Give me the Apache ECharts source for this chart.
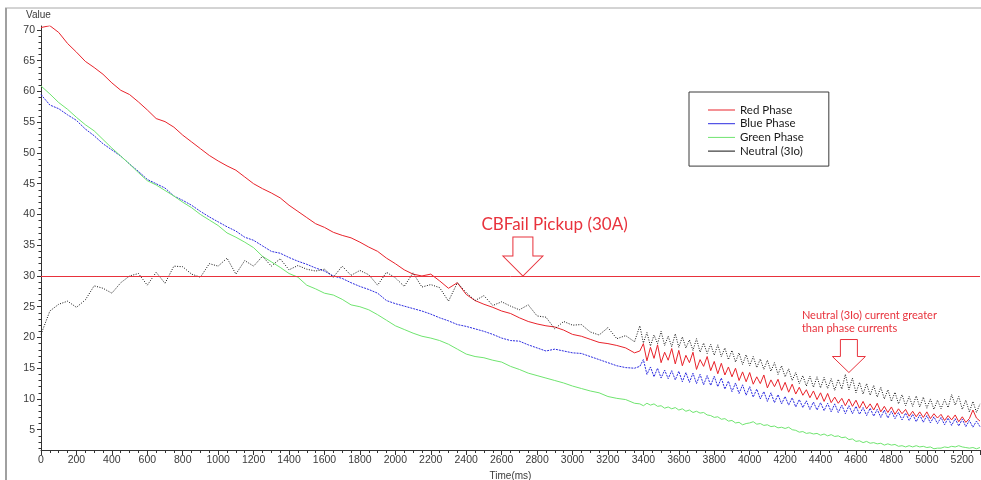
<!DOCTYPE html>
<html>
<head>
<meta charset="utf-8">
<script src="https://cdn.jsdelivr.net/npm/echarts@6/dist/echarts.min.js"></script>
<style>
html,body{margin:0;padding:0;background:#fff;}
#chart{width:981px;height:480px;}
</style>
</head>
<body>
<div id="chart"></div>
<script>
// Time axis (ms)
const timeMs = [
0,50,100,150,200,250,300,350,400,450,
500,550,600,650,700,750,800,850,900,950,
1000,1050,1100,1150,1200,1250,1300,1350,1400,1450,
1500,1550,1600,1650,1700,1750,1800,1850,1900,1950,
2000,2050,2100,2150,2200,2250,2300,2350,2400,2450,
2500,2550,2600,2650,2700,2750,2800,2850,2900,2950,
3000,3050,3100,3150,3200,3250,3300,3350,
3380,
3400,3420,3440,3460,3480,3500,3520,3540,3560,3580,
3600,3620,3640,3660,3680,3700,3720,3740,3760,3780,
3800,3820,3840,3860,3880,3900,3920,3940,3960,3980,
4000,4020,4040,4060,4080,4100,4120,4140,4160,4180,
4200,4220,4240,4260,4280,4300,4320,4340,4360,4380,
4400,4420,4440,4460,4480,4500,4520,4540,4560,4580,
4600,4620,4640,4660,4680,4700,4720,4740,4760,4780,
4800,4820,4840,4860,4880,4900,4920,4940,4960,4980,
5000,5020,5040,5060,5080,5100,5120,5140,5160,5180,
5200,5220,5240,5260,5280,5300
];

const redPhase = [
70.4,70.7,69.6,67.8,66.4,64.9,63.9,62.8,61.4,60.2,
59.5,58.3,57.0,55.6,55.1,54.2,52.9,51.8,50.7,49.6,
48.7,47.9,47.2,46.1,45.0,44.2,43.5,42.7,41.5,40.5,
39.5,38.5,37.9,37.1,36.6,36.2,35.5,34.7,34.0,32.9,
32.0,31.0,30.3,30.0,30.3,29.2,28.0,28.9,27.0,26.0,
25.4,24.9,24.3,23.9,23.2,22.6,22.2,21.9,21.7,21.2,
20.5,20.2,19.7,19.2,19.0,18.7,18.3,17.5,
17.8,
19.0,16.2,18.4,16.6,18.8,15.9,17.6,16.3,18.2,15.7,
17.9,15.4,17.1,15.9,17.6,14.8,16.4,15.3,16.9,14.6,
16.1,14.1,15.8,13.9,15.2,13.6,15.0,13.0,14.4,12.8,
14.3,12.4,13.6,12.5,13.9,11.8,13.1,12.0,13.2,11.4,
12.7,11.1,12.4,10.8,11.9,10.6,11.5,10.2,11.3,9.9,
11.0,9.6,10.9,9.4,10.3,9.3,10.1,8.9,10.0,8.8,
9.8,8.5,9.6,8.4,9.2,8.2,9.3,7.9,8.8,7.8,
8.7,7.5,8.4,7.6,8.3,7.2,8.0,7.1,7.9,7.0,
7.9,6.8,7.6,6.9,7.5,6.5,7.3,6.6,7.4,6.3,
7.1,6.2,6.8,8.2,6.9,6.4
];

const bluePhase = [
59.5,57.8,57.2,56.2,55.3,53.9,52.8,51.5,50.5,49.5,
48.2,47.0,45.7,45.0,44.3,43.0,42.3,41.5,40.5,39.6,
38.8,38.0,37.3,36.3,35.8,34.9,34.0,33.7,33.0,32.4,
31.9,31.3,30.8,30.0,29.6,28.9,28.3,27.8,27.2,26.0,
25.5,25.1,24.7,24.3,23.8,23.2,22.7,22.1,21.8,21.4,
21.0,20.5,19.9,19.5,19.4,18.8,18.3,17.8,18.1,17.8,
17.5,17.4,16.9,16.4,15.9,15.4,15.1,15.0,
15.3,
16.4,14.0,15.2,13.6,15.0,13.4,14.7,13.3,14.6,13.1,
14.5,12.8,14.3,12.7,14.2,12.5,14.0,12.3,13.8,12.2,
13.7,12.0,13.4,11.6,12.9,11.2,12.6,10.9,12.3,10.6,
12.0,10.3,11.6,10.0,11.2,9.6,11.0,9.4,10.7,9.2,
10.4,9.0,10.2,8.7,9.9,8.6,9.7,8.3,9.5,8.2,
9.4,8.1,9.3,7.9,9.2,7.8,9.0,7.6,8.9,7.6,
8.8,7.5,8.6,7.3,8.5,7.2,8.3,7.0,8.2,6.9,
8.0,6.8,7.8,6.6,7.7,6.5,7.5,6.3,7.4,6.2,
7.3,6.1,7.1,6.0,7.0,5.8,6.9,5.7,6.8,5.6,
6.7,5.5,6.5,5.4,6.4,5.5
];

const greenPhase = [
60.9,59.6,58.2,57.1,55.8,54.6,53.6,52.2,50.8,49.5,
48.2,46.8,45.5,44.8,43.9,43.0,42.0,41.1,40.0,39.1,
38.2,37.0,36.3,35.5,34.6,33.2,32.3,31.4,30.4,29.8,
28.5,27.9,27.2,26.9,26.2,25.3,25.0,24.5,23.7,22.8,
21.9,21.3,20.7,20.2,19.9,19.5,18.9,18.1,17.3,16.9,
16.7,16.3,16.0,15.3,14.8,14.2,13.8,13.4,13.0,12.6,
12.1,11.7,11.3,11.0,10.4,10.1,9.9,9.3,
9.2,
8.9,9.3,9.0,9.2,8.8,8.9,8.5,8.7,8.4,8.6,
8.2,8.4,8.0,8.2,7.8,8.0,7.7,7.8,7.4,7.3,
7.0,7.1,6.7,6.8,6.4,6.5,6.1,6.2,5.8,6.0,
6.1,6.3,5.9,6.0,5.7,5.8,5.5,5.6,5.3,5.4,
5.2,5.4,5.0,4.9,4.6,4.7,4.4,4.5,4.3,4.4,
4.1,4.3,4.0,4.2,3.9,4.0,3.7,3.8,3.4,3.5,
3.1,3.2,2.9,3.1,2.8,2.9,2.7,2.8,2.5,2.7,
2.5,2.6,2.3,2.4,2.2,2.4,2.2,2.4,2.2,2.3,
2.1,2.2,1.9,2.0,2.0,2.2,2.1,2.3,2.2,2.4,
2.2,2.1,2.0,2.1,1.9,2.1
];

const neutral3Io = [
20.5,24.3,25.4,25.9,24.9,26.1,28.4,28.0,27.2,28.9,
30.0,30.4,28.5,30.6,28.8,31.6,31.5,30.3,29.8,32.0,
31.6,32.9,30.3,32.5,31.6,33.2,31.6,32.8,31.0,31.7,
31.1,30.8,31.1,29.8,31.6,30.1,30.9,30.2,28.5,30.6,
29.7,28.3,30.5,28.2,28.6,28.1,25.9,28.9,27.3,26.0,
26.8,25.2,25.8,25.1,24.5,25.3,23.5,23.3,21.4,22.6,
22.0,22.1,20.9,20.4,21.6,19.8,20.3,19.3,
21.9,
19.1,20.8,18.6,20.4,19.0,21.0,18.7,20.2,18.5,20.6,
18.4,20.1,18.3,19.6,17.9,19.8,17.6,19.1,17.4,18.9,
17.1,18.8,16.9,18.3,16.4,17.9,16.0,17.5,15.6,17.2,
15.4,16.9,15.1,16.5,14.8,16.3,14.5,15.9,14.0,15.4,
13.6,14.9,13.0,14.3,12.5,13.8,12.1,13.7,11.9,13.6,
11.8,13.5,11.7,13.3,11.4,13.2,11.6,14.0,11.5,13.4,
11.0,12.7,10.8,12.5,10.6,12.2,10.3,11.9,10.0,11.5,
9.6,11.1,9.2,10.7,8.9,10.4,8.8,10.5,8.7,10.3,
8.5,10.0,8.3,9.8,8.4,9.9,8.6,10.7,9.0,10.4,
8.3,9.8,7.9,9.6,7.8,9.2
];

const seriesNames = ['Red Phase', 'Blue Phase', 'Green Phase', 'Neutral (3Io)'];
const yTickLabels = [5,10,15,20,25,30,35,40,45,50,55,60,65,70];
const xTickLabels = [0,200,400,600,800,1000,1200,1400,1600,1800,2000,2200,2400,2600,2800,3000,3200,3400,3600,3800,4000,4200,4400,4600,4800,5000,5200];
const pickupLevel = 30;
const pickupText = 'CBFail Pickup (30A)';
const pickupArrowAt = [2720, 30];
const neutralText = 'Neutral (3Io) current greater\nthan phase currents';
const neutralArrowAt = [4560, 14.3];

[redPhase, bluePhase, greenPhase, neutral3Io].forEach((a, i) => {
  if (a.length !== timeMs.length) throw new Error('length mismatch series ' + i + ': ' + a.length + ' vs ' + timeMs.length);
});

const pair = arr => timeMs.map((t, i) => [t, arr[i]]);
const yMinorTicks = [];
for (let v = 2; v <= 70; v++) yMinorTicks.push(v);

const RED = '#e8232b';
const ANN = '#e8323c';
const tickFont = { fontFamily: 'Liberation Sans', fontSize: 10.5, color: '#3a3a3a', formatter: v => String(v) };

const chart = echarts.init(document.getElementById('chart'), null, { renderer: 'canvas' });
chart.setOption({
  animation: false,
  backgroundColor: '#fff',
  graphic: [
    { type: 'line', shape: { x1: 5, y1: 8, x2: 981, y2: 8 }, style: { stroke: '#a8a8a8', lineWidth: 1 } },
    { type: 'rect', shape: { x: 5, y: 8, width: 2, height: 472 }, style: { fill: '#a0a0a0' } }
  ],
  grid: { left: 41, right: 1, top: 26, bottom: 30, containLabel: false, outerBoundsMode: 'none' },
  legend: {
    orient: 'vertical',
    left: 689, top: 92,
    padding: [12, 25, 9, 19],
    itemGap: 1.7,
    itemWidth: 27, itemHeight: 1,
    icon: 'rect',
    borderColor: '#3a3a3a', borderWidth: 1,
    backgroundColor: '#fff',
    textStyle: { fontFamily: 'Lato', fontSize: 11.5, color: '#1a1a1a', lineHeight: 11 },
    data: seriesNames
  },
  xAxis: [
    {
      type: 'value', min: 0, max: 5300, interval: 200,
      name: 'Time(ms)', nameLocation: 'middle', nameGap: 19,
      nameTextStyle: { fontFamily: 'Liberation Sans', fontSize: 10, color: '#3a3a3a' },
      axisLine: { show: true, onZero: false, lineStyle: { color: '#333', width: 1 } },
      axisTick: { show: true, length: 5, lineStyle: { color: '#333' } },
      axisLabel: Object.assign({ margin: 5, customValues: xTickLabels, hideOverlap: false }, tickFont),
      splitLine: { show: false }
    },
    {
      type: 'value', min: 0, max: 5300, interval: 50, position: 'bottom',
      axisLine: { show: false, onZero: false },
      axisTick: { show: true, length: 3, lineStyle: { color: '#333' } },
      axisLabel: { show: false },
      splitLine: { show: false }
    }
  ],
  yAxis: [
    {
      type: 'value', min: 1.7, max: 70.65,
      name: 'Value', nameLocation: 'end', nameGap: 6,
      nameTextStyle: { fontFamily: 'Liberation Sans', fontSize: 10, color: '#3a3a3a', padding: [0, 5, 0, 0] },
      axisLine: { show: true, onZero: false, lineStyle: { color: '#333', width: 1 } },
      axisTick: { show: true, length: 4, customValues: yTickLabels, lineStyle: { color: '#333' } },
      axisLabel: Object.assign({ margin: 6, customValues: yTickLabels }, tickFont),
      splitLine: { show: false }
    },
    {
      type: 'value', min: 1.7, max: 70.65, position: 'left',
      axisLine: { show: false, onZero: false },
      axisTick: { show: true, length: 2.5, customValues: yMinorTicks, lineStyle: { color: '#333' } },
      axisLabel: { show: false },
      splitLine: { show: false }
    }
  ],
  series: [
    {
      name: seriesNames[0], type: 'line', data: pair(redPhase), showSymbol: false, symbol: 'none',
      color: RED, lineStyle: { color: RED, width: 1 }, z: 3,
      markLine: {
        silent: true, symbol: 'none', animation: false,
        lineStyle: { color: ANN, width: 1, type: 'solid' },
        label: { show: false },
        data: [{ yAxis: pickupLevel }]
      },
      markPoint: {
        silent: true, animation: false,
        data: [
          {
            coord: pickupArrowAt,
            symbol: 'path://M10,0L30,0L30,19L40,19L20,39L0,19L10,19Z',
            symbolSize: [40, 39], symbolOffset: [0, -19.5],
            itemStyle: { color: '#fff', borderColor: ANN, borderWidth: 1 },
            label: {
              show: true, formatter: pickupText, position: [-21, -12],
              align: 'left', verticalAlign: 'middle',
              color: ANN, fontFamily: 'Lato', fontSize: 17
            }
          },
          {
            coord: neutralArrowAt,
            symbol: 'path://M8,0L25,0L25,17L33,17L16.5,33L0,17L8,17Z',
            symbolSize: [33, 33], symbolOffset: [0, -16.5],
            itemStyle: { color: '#fff', borderColor: ANN, borderWidth: 1 },
            label: {
              show: true, formatter: neutralText, position: [-30, -17.3],
              align: 'left', verticalAlign: 'middle',
              color: ANN, fontFamily: 'Lato', fontSize: 11, lineHeight: 12.7
            }
          }
        ]
      }
    },
    {
      name: seriesNames[1], type: 'line', data: pair(bluePhase), showSymbol: false, symbol: 'none',
      color: '#2b2be0', lineStyle: { color: '#2b2be0', width: 1, type: [2, 1] }, z: 2
    },
    {
      name: seriesNames[2], type: 'line', data: pair(greenPhase), showSymbol: false, symbol: 'none',
      color: '#6fe46f', lineStyle: { color: '#6fe46f', width: 1 }, z: 2
    },
    {
      name: seriesNames[3], type: 'line', data: pair(neutral3Io), showSymbol: false, symbol: 'none',
      color: '#111', lineStyle: { color: '#111', width: 1, type: [1, 1.5] }, z: 4
    }
  ]
});
</script>
</body>
</html>
